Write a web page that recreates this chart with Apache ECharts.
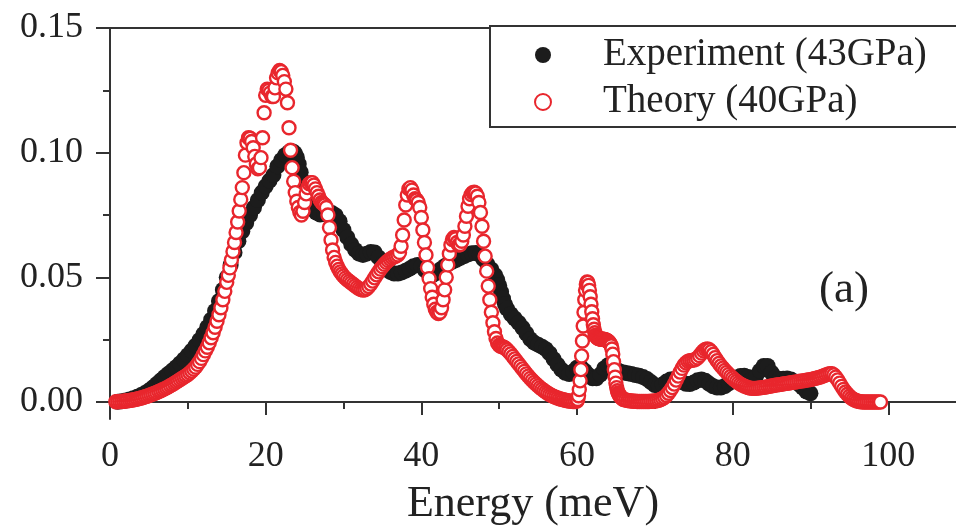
<!DOCTYPE html>
<html>
<head>
<meta charset="utf-8">
<script src="https://cdn.jsdelivr.net/npm/echarts@6/dist/echarts.min.js"></script>
<style>
  html, body { margin: 0; padding: 0; background: #fff; }
  #chart { width: 956px; height: 531px; }
</style>
</head>
<body>
<div id="chart"></div>
<script>
// Phonon density of states: measured (43 GPa) and calculated (40 GPa).
// Each entry is [energy in meV, intensity].
const experimentPoints = [
  [1,.0001],[1.5,.0003],[2,.0006],[2.5,.0010],[3,.0015],[3.5,.0021],[4,.0028],[4.5,.0036],
  [5,.0046],[5.5,.0058],[6,.0072],[6.5,.0086],[7,.0100],[7.5,.0113],[8,.0126],[8.5,.0140],
  [9,.0155],[9.5,.0171],[10,.0188],[10.5,.0206],[11,.0226],[11.5,.0248],[12,.0272],[12.5,.0300],
  [13,.0330],[13.5,.0365],[14,.0405],[14.5,.0450],[15,.0500],[15.5,.0550],[16,.0600],[16.5,.0645],
  [17,.0685],[17.5,.0718],[18,.0750],[18.5,.0780],[19,.0810],[19.5,.0840],[20,.0865],[20.5,.0888],
  [21,.0910],[21.5,.0945],[22,.0970],[22.5,.0990],[23,.1002],[23.25,.1006],[23.5,.1005],[23.75,.0998],
  [24,.0982],[24.25,.0955],[24.5,.0922],[24.75,.0888],[25,.0855],[25.25,.0827],[25.5,.0805],[25.75,.0788],
  [26,.0775],[26.5,.0760],[27,.0752],[27.5,.0755],[28,.0760],[28.5,.0758],[29,.0748],[29.5,.0725],
  [30,.0690],[30.5,.0660],[31,.0632],[31.5,.0610],[32,.0595],[32.5,.0590],[33,.0595],[33.5,.0602],
  [34,.0600],[34.5,.0580],[35,.0555],[35.5,.0535],[36,.0522],[36.5,.0515],[37,.0515],[37.5,.0520],
  [38,.0527],[38.5,.0535],[39,.0545],[39.5,.0550],[40,.0545],[40.5,.0528],[41,.0512],[41.5,.0510],
  [42,.0520],[42.5,.0533],[43,.0545],[43.5,.0555],[44,.0563],[44.5,.0570],[45,.0578],[45.5,.0585],
  [46,.0592],[46.5,.0597],[47,.0598],[47.5,.0590],[48,.0572],[48.5,.0552],[49,.0532],[49.5,.0508],
  [49.75,.0490],[50,.0468],[50.25,.0442],[50.5,.0415],[50.75,.0392],[51,.0375],[51.5,.0352],[52,.0335],
  [52.5,.0318],[53,.0298],[53.5,.0275],[54,.0252],[54.5,.0238],[55,.0230],[55.5,.0222],[56,.0212],
  [56.5,.0195],[57,.0172],[57.5,.0150],[58,.0130],[58.5,.0117],[59,.0112],[59.5,.0122],[60,.0138],
  [60.5,.0140],[61,.0125],[61.5,.0108],[62,.0095],[62.5,.0095],[63,.0110],[63.5,.0135],[64,.0148],
  [64.5,.0145],[65,.0132],[65.5,.0122],[66,.0118],[66.5,.0115],[67,.0112],[67.5,.0108],[68,.0105],
  [68.5,.0100],[69,.0092],[69.5,.0080],[70,.0068],[70.5,.0064],[71,.0070],[71.5,.0082],[72,.0090],
  [72.5,.0092],[73,.0088],[73.5,.0080],[74,.0073],[74.5,.0072],[75,.0078],[75.5,.0087],[76,.0090],
  [76.5,.0085],[77,.0073],[77.5,.0063],[78,.0058],[78.5,.0058],[79,.0064],[79.5,.0075],[80,.0088],
  [80.5,.0098],[81,.0104],[81.5,.0105],[82,.0100],[82.5,.0095],[83,.0103],[83.5,.0125],[84,.0145],
  [84.5,.0145],[85,.0118],[85.5,.0098],[86,.0092],[86.5,.0093],[87,.0094],[87.5,.0090],[88,.0082],
  [88.5,.0072],[89,.0058],[89.5,.0042],[90,.0035]
];

const theoryPoints = [
  [0.75,.0001],[1,.0001],[1.25,.0002],[1.5,.0002],[1.75,.0003],[2,.0004],[2.25,.0005],[2.5,.0006],
  [2.75,.0007],[3,.0009],[3.25,.0010],[3.5,.0012],[3.75,.0014],[4,.0016],[4.25,.0018],[4.5,.0021],
  [4.75,.0023],[5,.0026],[5.25,.0029],[5.5,.0032],[5.75,.0035],[6,.0038],[6.25,.0042],[6.5,.0045],
  [6.75,.0049],[7,.0053],[7.25,.0057],[7.5,.0061],[7.75,.0066],[8,.0070],[8.25,.0075],[8.5,.0080],
  [8.75,.0085],[9,.0090],[9.25,.0095],[9.5,.0100],[9.75,.0105],[10,.0110],[10.25,.0117],[10.5,.0124],
  [10.75,.0132],[11,.0140],[11.25,.0151],[11.5,.0162],[11.75,.0175],[12,.0190],[12.25,.0205],[12.5,.0220],
  [12.75,.0238],[13,.0258],[13.25,.0278],[13.5,.0300],[13.75,.0324],[14,.0350],[14.25,.0378],[14.5,.0410],
  [14.75,.0444],[15,.0480],
  [15.2,.0508],[15.4,.0538],[15.6,.0570],[15.8,.0604],[16,.0640],[16.2,.0680],[16.4,.0722],[16.6,.0766],
  [16.8,.0812],[17,.0860],[17.2,.0920],[17.4,.0990],[17.6,.1040],[17.8,.1060],[18,.1058],[18.2,.1045],
  [18.4,.1020],[18.6,.0985],[18.8,.0955],[19,.0935],[19.2,.0940],[19.4,.0980],[19.6,.1060],[19.8,.1160],
  [20,.1230],[20.2,.1255],[20.4,.1250],[20.6,.1240],[20.8,.1225],[21,.1225],[21.2,.1260],[21.4,.1300],
  [21.6,.1320],[21.8,.1330],[22,.1325],[22.2,.1310],[22.4,.1285],[22.6,.1255],[22.8,.1200],[23,.1100],
  [23.2,.1010],[23.4,.0940],[23.6,.0885],[23.8,.0840],[24,.0805],[24.2,.0780],[24.4,.0760],[24.6,.0750],
  [24.8,.0765],[25,.0800],[25.2,.0835],[25.4,.0860],[25.6,.0875],[25.8,.0880],[26,.0880],[26.2,.0870],
  [26.4,.0855],[26.6,.0840],[26.8,.0825],[27,.0810],[27.2,.0800],[27.4,.0795],[27.6,.0790],[27.8,.0780],
  [28,.0750],[28.2,.0700],[28.4,.0650],[28.6,.0610],[28.8,.0580],[29,.0560],[29.2,.0545],[29.4,.0532],
  [29.6,.0522],[29.8,.0513],[30,.0505],
  [30.25,.0497],[30.5,.0490],[30.75,.0484],[31,.0478],[31.25,.0472],[31.5,.0466],[31.75,.0460],[32,.0455],
  [32.25,.0451],[32.5,.0449],[32.75,.0450],[33,.0455],[33.25,.0463],[33.5,.0473],[33.75,.0485],[34,.0498],
  [34.25,.0510],[34.5,.0522],[34.75,.0533],[35,.0543],[35.25,.0552],[35.5,.0560],[35.75,.0567],[36,.0573],
  [36.25,.0578],[36.5,.0582],[36.75,.0585],[37,.0590],
  [37.2,.0600],[37.4,.0625],[37.6,.0670],[37.8,.0730],[38,.0790],[38.2,.0830],[38.4,.0855],[38.6,.0860],
  [38.8,.0850],[39,.0830],[39.2,.0815],[39.4,.0810],[39.6,.0800],[39.8,.0780],[40,.0740],[40.2,.0690],
  [40.4,.0640],[40.6,.0590],[40.8,.0540],[41,.0495],[41.2,.0455],[41.4,.0420],[41.6,.0392],[41.8,.0372],
  [42,.0360],[42.2,.0355],[42.4,.0360],[42.6,.0378],[42.8,.0410],[43,.0450],[43.2,.0500],[43.4,.0550],
  [43.6,.0595],[43.8,.0630],[44,.0652],[44.2,.0660],[44.4,.0655],[44.6,.0640],[44.8,.0630],[45,.0632],
  [45.2,.0645],[45.4,.0670],[45.6,.0705],[45.8,.0745],[46,.0785],[46.2,.0815],[46.4,.0832],[46.6,.0840],
  [46.8,.0842],[47,.0838],[47.2,.0825],[47.4,.0800],[47.6,.0760],[47.8,.0705],[48,.0645],[48.2,.0585],
  [48.4,.0525],[48.6,.0465],[48.8,.0410],[49,.0360],[49.2,.0318],[49.4,.0282],[49.6,.0255],[49.8,.0237],
  [50,.0228],[50.2,.0224],[50.4,.0222],[50.6,.0220],[50.8,.0216],[51,.0210],
  [51.25,.0202],[51.5,.0193],[51.75,.0183],[52,.0173],[52.25,.0163],[52.5,.0153],[52.75,.0143],[53,.0133],
  [53.25,.0123],[53.5,.0113],[53.75,.0104],[54,.0095],[54.25,.0087],[54.5,.0079],[54.75,.0072],[55,.0065],
  [55.25,.0058],[55.5,.0052],[55.75,.0046],[56,.0040],[56.25,.0035],[56.5,.0030],[56.75,.0026],[57,.0022],
  [57.25,.0019],[57.5,.0016],[57.75,.0013],[58,.0011],[58.25,.0009],[58.5,.0007],[58.75,.0005],[59,.0004],
  [59.25,.0003],[59.5,.0002],[59.75,.0002],[60,.0004],
  [60.1,.0010],[60.2,.0025],[60.3,.0050],[60.4,.0085],[60.5,.0130],[60.6,.0185],[60.7,.0245],[60.8,.0305],
  [60.9,.0360],[61,.0410],[61.1,.0448],[61.2,.0472],[61.3,.0482],[61.4,.0480],[61.5,.0468],[61.6,.0448],
  [61.7,.0422],[61.8,.0392],[61.9,.0362],[62,.0334],[62.1,.0310],[62.2,.0292],[62.3,.0278],[62.4,.0268],
  [62.5,.0262],[62.6,.0258],[62.7,.0256],[62.8,.0255],[62.9,.0254],[63,.0253],[63.1,.0252],[63.2,.0252],
  [63.3,.0252],[63.4,.0252],[63.5,.0251],[63.6,.0250],[63.7,.0249],[63.8,.0248],[63.9,.0246],[64,.0244],
  [64.1,.0241],[64.2,.0237],[64.3,.0232],[64.4,.0226],[64.5,.0213],[64.6,.0192],[64.7,.0162],[64.8,.0130],
  [64.9,.0100],[65,.0076],[65.1,.0058],[65.2,.0045],[65.3,.0036],[65.4,.0030],[65.5,.0025],[65.6,.0021],
  [65.7,.0018],[65.8,.0015],[65.9,.0012],[66,.0010],
  [66.25,.0008],[66.5,.0006],[66.75,.0005],[67,.0004],[67.25,.0003],[67.5,.0003],[67.75,.0002],[68,.0002],
  [68.25,.0002],[68.5,.0002],[68.75,.0002],[69,.0002],[69.25,.0002],[69.5,.0003],[69.75,.0003],[70,.0004],
  [70.25,.0005],[70.5,.0007],[70.75,.0010],[71,.0014],[71.25,.0019],[71.5,.0026],[71.75,.0035],[72,.0046],
  [72.25,.0058],[72.5,.0072],[72.75,.0088],[73,.0104],[73.25,.0120],[73.5,.0135],[73.75,.0148],[74,.0157],
  [74.25,.0163],[74.5,.0166],[74.75,.0167],[75,.0168],[75.25,.0171],[75.5,.0177],[75.75,.0186],[76,.0196],
  [76.25,.0205],[76.5,.0211],[76.75,.0213],[77,.0210],[77.25,.0202],[77.5,.0191],[77.75,.0178],[78,.0166],
  [78.25,.0155],[78.5,.0145],[78.75,.0136],[79,.0127],[79.25,.0119],[79.5,.0111],[79.75,.0103],[80,.0096],
  [80.25,.0089],[80.5,.0083],[80.75,.0077],[81,.0072],[81.25,.0068],[81.5,.0064],[81.75,.0061],[82,.0058],
  [82.25,.0056],[82.5,.0055],[82.75,.0055],[83,.0055],[83.25,.0056],[83.5,.0057],[83.75,.0058],[84,.0059],
  [84.25,.0060],[84.5,.0062],[84.75,.0063],[85,.0065],[85.25,.0066],[85.5,.0068],[85.75,.0069],[86,.0070],
  [86.25,.0071],[86.5,.0073],[86.75,.0074],[87,.0075],[87.25,.0076],[87.5,.0078],[87.75,.0079],[88,.0080],
  [88.25,.0081],[88.5,.0083],[88.75,.0084],[89,.0085],[89.25,.0086],[89.5,.0088],[89.75,.0089],[90,.0090],
  [90.25,.0092],[90.5,.0094],[90.75,.0096],[91,.0098],[91.25,.0100],[91.5,.0103],[91.75,.0106],[92,.0109],
  [92.25,.0112],[92.5,.0114],[92.75,.0114],[93,.0109],[93.25,.0100],[93.5,.0089],[93.75,.0076],[94,.0063],
  [94.25,.0051],[94.5,.0040],[94.75,.0031],[95,.0023],[95.25,.0016],[95.5,.0011],[95.75,.0007],[96,.0004],
  [96.25,.0002],[96.5,.0001],[96.75,.0000],[97,.0000],[97.25,.0000],[97.5,.0000],[97.75,.0000],[98,.0000],
  [98.25,.0000],[98.5,.0000],[98.75,.0000],[99,.0000]
];

// Axis ticks
const xMajorTicks = [0, 20, 40, 60, 80, 100];
const xMinorTicks = [10, 30, 50, 70, 90];
const yMajorTicks = [0, 0.05, 0.10, 0.15];
const yMinorTicks = [0.025, 0.075, 0.125];

const seriesNames = ['Experiment (43GPa)', 'Theory (40GPa)'];

const FONT = '"Liberation Serif", "Times New Roman", serif';
const AXIS_COLOR = '#333';
const TEXT_COLOR = '#222';
const RED = '#e8262d';
const BLACK = '#1c1c1c';

const X_MIN = 0, X_MAX = 108.7;
const Y_MIN = -0.0068, Y_MAX = 0.15;

const axisLine = { show: true, lineStyle: { color: AXIS_COLOR, width: 2 } };
const tickLine = { color: AXIS_COLOR, width: 2 };

const chart = echarts.init(document.getElementById('chart'), null, { renderer: 'canvas' });

chart.setOption({
  animation: false,
  backgroundColor: '#fff',
  textStyle: { fontFamily: FONT },
  grid: { left: 110, right: 0, top: 28, bottom: 109, containLabel: false },
  legend: {
    orient: 'vertical',
    left: 490,
    top: 26,
    padding: [9, 60, 5, 44],
    itemGap: 7,
    itemWidth: 16,
    itemHeight: 16,
    borderColor: AXIS_COLOR,
    borderWidth: 2,
    borderRadius: 0,
    backgroundColor: '#fff',
    selectedMode: false,
    textStyle: {
      fontFamily: FONT, fontSize: 39, color: TEXT_COLOR,
      lineHeight: 40, padding: [0, 0, 0, 47]
    },
    data: [
      { name: seriesNames[0], icon: 'circle' },
      { name: seriesNames[1], icon: 'circle' }
    ]
  },
  xAxis: [
    {
      type: 'value', min: X_MIN, max: X_MAX, position: 'bottom',
      axisLine: axisLine,
      axisTick: { show: true, length: 13, customValues: xMajorTicks, lineStyle: tickLine },
      axisLabel: {
        customValues: xMajorTicks, fontFamily: FONT, fontSize: 36,
        color: TEXT_COLOR, margin: 20
      },
      splitLine: { show: false },
      name: 'Energy (meV)',
      nameLocation: 'middle',
      nameGap: 63,
      nameTextStyle: { fontFamily: FONT, fontSize: 44, color: TEXT_COLOR }
    },
    {
      type: 'value', min: X_MIN, max: X_MAX, position: 'bottom',
      axisLine: { show: false },
      axisTick: { show: true, length: 7, customValues: xMinorTicks, lineStyle: tickLine },
      axisLabel: { show: false },
      splitLine: { show: false }
    },
    {
      type: 'value', min: X_MIN, max: X_MAX, position: 'top',
      axisLine: axisLine,
      axisTick: { show: false },
      axisLabel: { show: false },
      splitLine: { show: false }
    }
  ],
  yAxis: [
    {
      type: 'value', min: Y_MIN, max: Y_MAX, position: 'left',
      axisLine: axisLine,
      axisTick: { show: true, length: 14, customValues: yMajorTicks, lineStyle: tickLine },
      axisLabel: {
        customValues: yMajorTicks, fontFamily: FONT, fontSize: 36,
        color: TEXT_COLOR, margin: 27,
        formatter: v => v.toFixed(2)
      },
      splitLine: { show: false }
    },
    {
      type: 'value', min: Y_MIN, max: Y_MAX, position: 'left',
      axisLine: { show: false },
      axisTick: { show: true, length: 7, customValues: yMinorTicks, lineStyle: tickLine },
      axisLabel: { show: false },
      splitLine: { show: false }
    }
  ],
  graphic: [
    {
      type: 'text', x: 844, y: 290, silent: true,
      style: {
        text: '(a)', font: '45px ' + FONT, fill: TEXT_COLOR,
        textAlign: 'center', textVerticalAlign: 'middle'
      }
    }
  ],
  series: [
    {
      name: seriesNames[0],
      type: 'scatter',
      xAxisIndex: 0, yAxisIndex: 0,
      symbol: 'circle',
      symbolSize: 16,
      itemStyle: { color: BLACK, opacity: 1 },
      silent: true,
      data: experimentPoints
    },
    {
      name: seriesNames[1],
      type: 'scatter',
      xAxisIndex: 0, yAxisIndex: 0,
      symbol: 'circle',
      symbolSize: 13,
      itemStyle: { color: '#fff', borderColor: RED, borderWidth: 2.4, opacity: 1 },
      silent: true,
      data: theoryPoints
    }
  ]
});
</script>
</body>
</html>
